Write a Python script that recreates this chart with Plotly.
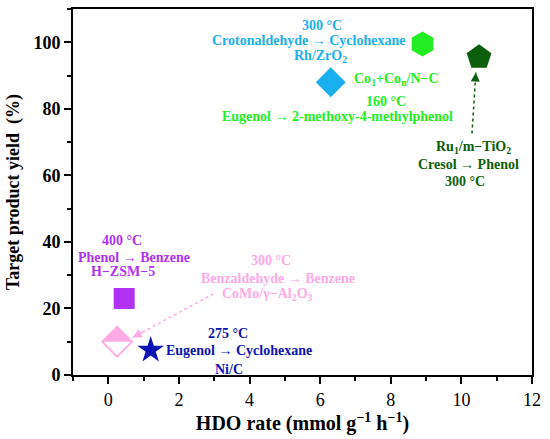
import plotly.graph_objects as go

# catalyst points: HDO rate (mmol g-1 h-1) vs target product yield (%)
catalysts = ["Rh/ZrO2", "Co1+Con/N-C", "Ru1/m-TiO2", "H-ZSM-5", "CoMo/Al2O3", "Ni/C"]
hdo_rate = [6.3, 8.9, 10.5, 0.45, 0.25, 1.2]
yield_pct = [88, 99.5, 95.5, 23, 10, 7.5]
symbols = ["diamond", "hexagon", "pentagon", "square", "diamond-open", "star"]
sizes = [23, 25, 26, 21, 23, 20]
colors = ["#1AB0F0", "#22EE22", "#0B5E0B", "#B132F0", "#FFAAE6", "#0A14B4"]

# label lines, their positions and colour index
label_text = [
    "300 °C", "Crotonaldehyde → Cyclohexane", "Rh/ZrO<sub>2</sub>",
    "Co<sub>1</sub>+Co<sub>n</sub>/N−C", "160 °C", "Eugenol → 2-methoxy-4-methylphenol",
    "Ru<sub>1</sub>/m−TiO<sub>2</sub>", "Cresol → Phenol", "300 °C",
    "400 °C", "Phenol → Benzene", "H−ZSM−5",
    "300 °C", "Benzaldehyde → Benzene", "CoMo/γ−Al<sub>2</sub>O<sub>3</sub>",
    "275 °C", "Eugenol → Cyclohexane", "Ni/C",
]
label_x = [6.04, 5.67, 6.01, 8.16, 7.86, 6.5, 10.33, 10.2, 10.1,
           0.4, 0.73, 0.42, 4.62, 4.82, 4.52, 3.4, 3.7, 3.43]
label_y = [104.9, 100.4, 95.7, 88.8, 82.3, 77.8, 68.4, 63.3, 58.1,
           40.5, 35.3, 31.0, 34.5, 29.1, 24.2, 12.6, 7.35, 1.8]
label_color = [0, 0, 0, 1, 1, 1, 2, 2, 2, 3, 3, 3, 4, 4, 4, 5, 5, 5]

# dotted pointer arrows: tail -> head
arrow_tail = [(10.3, 72.6), (2.98, 24.4)]
arrow_head = [(10.41, 90.9), (0.69, 11.25)]
arrow_color = [2, 4]

SERIF = "Liberation Serif, Times New Roman, serif"

fig = go.Figure()

for i in range(len(catalysts)):
    fig.add_trace(go.Scatter(
        x=[hdo_rate[i]], y=[yield_pct[i]], mode="markers", name=catalysts[i],
        marker=dict(symbol=symbols[i], size=sizes[i], color=colors[i],
                    line=dict(width=1.8 if symbols[i].endswith("open") else 0,
                              color=colors[i])),
        showlegend=False,
    ))

# upper half fill of the half-filled diamond
fig.add_shape(type="path", xref="x", yref="y",
              xsizemode="pixel", ysizemode="pixel",
              xanchor=hdo_rate[4], yanchor=yield_pct[4],
              path="M -15 0 L 0 15 L 15 0 Z",
              fillcolor=colors[4], line=dict(width=0))

for (tx, ty), (hx, hy), ci in zip(arrow_tail, arrow_head, arrow_color):
    fig.add_trace(go.Scatter(
        x=[tx, hx], y=[ty, hy], mode="lines", showlegend=False,
        line=dict(color=colors[ci], width=1.5, dash="dot"),
    ))
    fig.add_annotation(x=hx, y=hy, ax=tx + (hx - tx) * 0.85, ay=ty + (hy - ty) * 0.85,
                       xref="x", yref="y", axref="x", ayref="y", text="",
                       showarrow=True, arrowhead=2, arrowsize=1.2, arrowwidth=1.5,
                       arrowcolor=colors[ci])

for t, x, y, ci in zip(label_text, label_x, label_y, label_color):
    fig.add_annotation(x=x, y=y, text="<b>" + t + "</b>", showarrow=False,
                       xanchor="center", yanchor="middle",
                       font=dict(family=SERIF, size=14, color=colors[ci]))

axis_common = dict(showline=True, mirror=True, linewidth=2, linecolor="black",
                   ticks="outside", ticklen=7, tickwidth=2, tickcolor="black",
                   showgrid=False, zeroline=False)

fig.update_xaxes(range=[-1, 12], dtick=2, tick0=0,
                 minor=dict(dtick=1, ticks="outside", ticklen=4, tickwidth=2, tickcolor="black"),
                 tickfont=dict(family=SERIF, size=18, color="black"),
                 title=dict(text="<b>HDO rate (mmol g<sup>−1</sup> h<sup>−1</sup>)</b>", standoff=0,
                            font=dict(family=SERIF, size=20, color="black")),
                 **axis_common)
fig.update_yaxes(range=[0, 110], dtick=20, tick0=0,
                 minor=dict(dtick=10, ticks="outside", ticklen=4, tickwidth=2, tickcolor="black"),
                 tickfont=dict(family=SERIF, size=18, color="black", weight="bold"),
                 title=dict(text="<b>Target product yield  (%)</b>", standoff=9,
                            font=dict(family=SERIF, size=18, color="black")),
                 **axis_common)

fig.update_layout(
    width=550, height=439,
    margin=dict(l=73, r=18, t=7, b=64),
    paper_bgcolor="white", plot_bgcolor="white",
)

# drop the browser's default body margin so the figure sits at the window corner
fig.write_html("out.html", config={"displayModeBar": False},
               post_script="document.body.style.margin='0';")
